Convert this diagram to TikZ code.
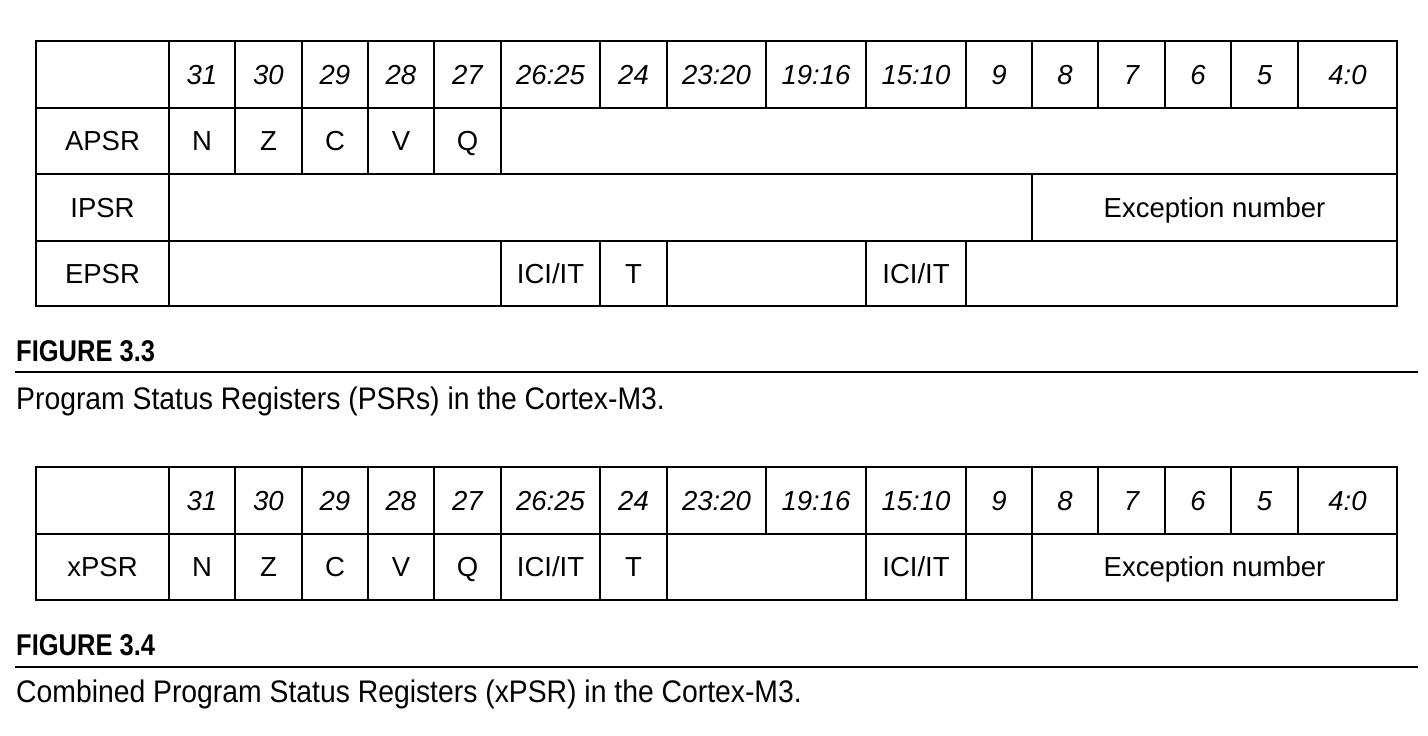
\documentclass[tikz,border=0pt]{standalone}
\usepackage{fontspec}
\setmainfont{Liberation Sans}
\newfontfamily\capfont[FakeStretch=0.908]{Liberation Sans}
\newfontfamily\labfont[FakeStretch=0.85]{Liberation Sans}
\newcommand\regcell[6]{\node[cell, minimum width={#4-#2}, minimum height={#5-#3}] (#1) at ({(#2+#4)/2},{(#3+#5)/2}) {#6};}
\tikzset{
  cell/.style={draw, line width=2.7pt, inner sep=0pt, outer sep=0pt, text height=19.7pt, text depth=0pt,
    font=\fontsize{27.5}{33}\selectfont},
  capline/.style={line width=1.6pt},
  figlabel/.style={anchor=base west, inner sep=0pt, font=\labfont\bfseries\fontsize{30}{36}\selectfont},
  figcap/.style={anchor=base west, inner sep=0pt, font=\capfont\fontsize{31.2}{37}\selectfont}
}
\begin{document}
\begin{tikzpicture}[x=1pt,y=-1pt]
\useasboundingbox (0,0) rectangle (1428,736);
% ---------- Figure 3.3 ----------
% header row
\regcell{ha0}{36}{41}{169}{108}{}
\regcell{ha1}{169}{41}{235}{108}{\itshape 31}
\regcell{ha2}{235}{41}{302}{108}{\itshape 30}
\regcell{ha3}{302}{41}{368}{108}{\itshape 29}
\regcell{ha4}{368}{41}{434}{108}{\itshape 28}
\regcell{ha5}{434}{41}{501}{108}{\itshape 27}
\regcell{ha6}{501}{41}{600}{108}{\itshape 26:25}
\regcell{ha7}{600}{41}{667}{108}{\itshape 24}
\regcell{ha8}{667}{41}{766}{108}{\itshape 23:20}
\regcell{ha9}{766}{41}{866}{108}{\itshape 19:16}
\regcell{ha10}{866}{41}{966}{108}{\itshape 15:10}
\regcell{ha11}{966}{41}{1032}{108}{\itshape 9}
\regcell{ha12}{1032}{41}{1098}{108}{\itshape 8}
\regcell{ha13}{1098}{41}{1165}{108}{\itshape 7}
\regcell{ha14}{1165}{41}{1231}{108}{\itshape 6}
\regcell{ha15}{1231}{41}{1298}{108}{\itshape 5}
\regcell{ha16}{1298}{41}{1397}{108}{\itshape 4:0}
% APSR row
\regcell{apsr}{36}{108}{169}{174}{APSR}
\regcell{apN}{169}{108}{235}{174}{N}
\regcell{apZ}{235}{108}{302}{174}{Z}
\regcell{apC}{302}{108}{368}{174}{C}
\regcell{apV}{368}{108}{434}{174}{V}
\regcell{apQ}{434}{108}{501}{174}{Q}
\regcell{aprest}{501}{108}{1397}{174}{}
% IPSR row
\regcell{ipsr}{36}{174}{169}{241}{IPSR}
\regcell{iprest}{169}{174}{1032}{241}{}
\regcell{ipexc}{1032}{174}{1397}{241}{Exception number}
% EPSR row
\regcell{epsr}{36}{241}{169}{306}{EPSR}
\regcell{ep1}{169}{241}{501}{306}{}
\regcell{epici1}{501}{241}{600}{306}{ICI/IT}
\regcell{epT}{600}{241}{667}{306}{T}
\regcell{ep2}{667}{241}{866}{306}{}
\regcell{epici2}{866}{241}{966}{306}{ICI/IT}
\regcell{ep3}{966}{241}{1397}{306}{}
% caption 3.3
\node[figlabel] (lab33) at (16,361) {FIGURE 3.3};
\coordinate (r33a) at (15,372);
\coordinate (r33b) at (1418,372);
\draw[capline] (r33a) -- (r33b);
\node[figcap] (cap33) at (16,409) {Program Status Registers (PSRs) in the Cortex-M3.};
% ---------- Figure 3.4 ----------
\regcell{hb0}{36}{467}{169}{534}{}
\regcell{hb1}{169}{467}{235}{534}{\itshape 31}
\regcell{hb2}{235}{467}{302}{534}{\itshape 30}
\regcell{hb3}{302}{467}{368}{534}{\itshape 29}
\regcell{hb4}{368}{467}{434}{534}{\itshape 28}
\regcell{hb5}{434}{467}{501}{534}{\itshape 27}
\regcell{hb6}{501}{467}{600}{534}{\itshape 26:25}
\regcell{hb7}{600}{467}{667}{534}{\itshape 24}
\regcell{hb8}{667}{467}{766}{534}{\itshape 23:20}
\regcell{hb9}{766}{467}{866}{534}{\itshape 19:16}
\regcell{hb10}{866}{467}{966}{534}{\itshape 15:10}
\regcell{hb11}{966}{467}{1032}{534}{\itshape 9}
\regcell{hb12}{1032}{467}{1098}{534}{\itshape 8}
\regcell{hb13}{1098}{467}{1165}{534}{\itshape 7}
\regcell{hb14}{1165}{467}{1231}{534}{\itshape 6}
\regcell{hb15}{1231}{467}{1298}{534}{\itshape 5}
\regcell{hb16}{1298}{467}{1397}{534}{\itshape 4:0}
% xPSR row
\regcell{xpsr}{36}{534}{169}{600}{xPSR}
\regcell{xN}{169}{534}{235}{600}{N}
\regcell{xZ}{235}{534}{302}{600}{Z}
\regcell{xC}{302}{534}{368}{600}{C}
\regcell{xV}{368}{534}{434}{600}{V}
\regcell{xQ}{434}{534}{501}{600}{Q}
\regcell{xici1}{501}{534}{600}{600}{ICI/IT}
\regcell{xT}{600}{534}{667}{600}{T}
\regcell{xgap1}{667}{534}{866}{600}{}
\regcell{xici2}{866}{534}{966}{600}{ICI/IT}
\regcell{xgap2}{966}{534}{1032}{600}{}
\regcell{xexc}{1032}{534}{1397}{600}{Exception number}
% caption 3.4
\node[figlabel] (lab34) at (16,655) {FIGURE 3.4};
\coordinate (r34a) at (15,667);
\coordinate (r34b) at (1418,667);
\draw[capline] (r34a) -- (r34b);
\node[figcap] (cap34) at (16,702) {Combined Program Status Registers (xPSR) in the Cortex-M3.};
\end{tikzpicture}
\end{document}
